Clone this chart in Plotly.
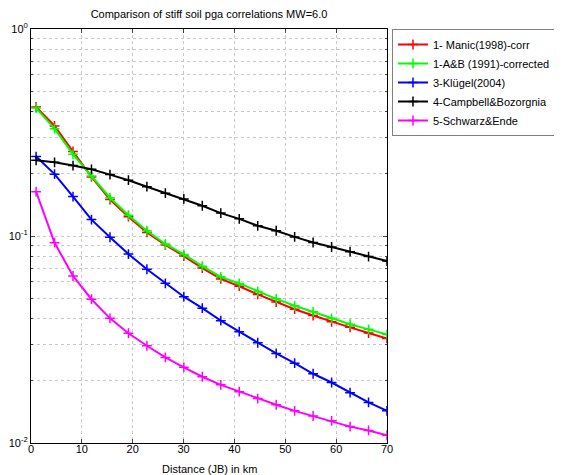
import plotly.graph_objects as go

distance_km = [1.0, 4.63, 8.26, 11.89, 15.53, 19.16, 22.79, 26.42, 30.05, 33.68,
               37.32, 40.95, 44.58, 48.21, 51.84, 55.47, 59.11, 62.74, 66.37, 70.0]

manic_corr = [0.420, 0.340, 0.256, 0.193, 0.150, 0.124, 0.104, 0.0905, 0.0800, 0.0700,
              0.0620, 0.0572, 0.0522, 0.0480, 0.0443, 0.0413, 0.0385, 0.0362, 0.0340, 0.0320]
ab_corrected = [0.415, 0.330, 0.248, 0.195, 0.153, 0.126, 0.106, 0.0915, 0.0815, 0.0715,
                0.0635, 0.0590, 0.0540, 0.0497, 0.0460, 0.0430, 0.0400, 0.0375, 0.0354, 0.0334]
klugel = [0.242, 0.199, 0.155, 0.120, 0.0986, 0.0818, 0.0691, 0.0591, 0.0509, 0.0448,
          0.0390, 0.0345, 0.0305, 0.0271, 0.0243, 0.0216, 0.0196, 0.0175, 0.0157, 0.0143]
campbell = [0.232, 0.227, 0.219, 0.210, 0.198, 0.186, 0.173, 0.161, 0.151, 0.140,
            0.129, 0.121, 0.112, 0.106, 0.099, 0.093, 0.0885, 0.084, 0.0795, 0.0757]
schwarz = [0.1637, 0.0928, 0.0641, 0.0495, 0.0400, 0.0339, 0.0295, 0.0259, 0.0232, 0.0209,
           0.0191, 0.0177, 0.0164, 0.0153, 0.0143, 0.0135, 0.0128, 0.0120, 0.0115, 0.0109]

series_names = ["1- Manic(1998)-corr", "1-A&B (1991)-corrected", "3-Klügel(2004)",
                "4-Campbell&Bozorgnia", "5-Schwarz&Ende"]
series_colors = ["#ff0000", "#00ff00", "#0000ff", "#000000", "#ff00ff"]
series_values = [manic_corr, ab_corrected, klugel, campbell, schwarz]

x_tick_vals = [0, 10, 20, 30, 40, 50, 60, 70]
x_tick_text = ["0", "10", "20", "30", "40", "50", "60", "70"]
y_tick_vals = [0.01, 0.1, 1]
y_tick_text = ["10<sup>-2</sup>", "10<sup>-1</sup>", "10<sup>0</sup>"]

FONT = "Liberation Sans, Arial, sans-serif"

# the page body has an 8px default margin; the plot area is placed to allow for it
W, H = 562, 475
L, T = 23, 21
PLOT_W, PLOT_H = 356, 414
R = W - L - PLOT_W
B = H - T - PLOT_H

fig = go.Figure()
for name, color, vals in zip(series_names, series_colors, series_values):
    fig.add_trace(go.Scatter(
        x=distance_km, y=vals, name=name, mode="lines+markers",
        line=dict(color=color, width=2),
        marker=dict(symbol="cross-thin", size=7, line=dict(color=color, width=1.5)),
    ))

grid_color = "#c8c8c8"
fig.update_layout(
    width=W, height=H,
    margin=dict(l=L, r=R, t=T, b=B),
    paper_bgcolor="white", plot_bgcolor="white",
    font=dict(family=FONT, size=11, color="black"),
    title=dict(text="Comparison of stiff soil pga correlations MW=6.0",
               x=(209 - 8) / W, xanchor="center", y=1 - 6 / H, yanchor="middle",
               font=dict(size=11)),
    showlegend=True,
    legend=dict(x=1.014, y=1.0, xanchor="left", yanchor="top",
                bordercolor="#808080", borderwidth=1, bgcolor="white",
                font=dict(size=11), tracegroupgap=0, itemwidth=30),
    annotations=[dict(text="Distance (JB) in km", xref="paper", yref="paper",
                      x=0.5, y=-26 / PLOT_H, xanchor="center", yanchor="middle",
                      showarrow=False, font=dict(size=11))],
)
fig.update_xaxes(
    range=[0, 70], tickmode="array", tickvals=x_tick_vals, ticktext=x_tick_text,
    showticklabels=True, ticks="inside", ticklen=4, ticklabelstandoff=-4,
    ticklabeloverflow="allow",
    showline=True, linecolor="black", linewidth=1, mirror="allticks",
    showgrid=True, gridcolor=grid_color, griddash="dot", gridwidth=1,
    zeroline=False, automargin=False,
)
fig.update_yaxes(
    type="log", range=[-2, 0], tickvals=y_tick_vals, ticktext=y_tick_text,
    ticks="inside", ticklen=4, ticklabeloverflow="allow",
    showline=True, linecolor="black", linewidth=1, mirror="allticks",
    showgrid=True, gridcolor=grid_color, griddash="dot", gridwidth=1,
    zeroline=False, automargin=False,
    minor=dict(dtick="D1", ticks="inside", ticklen=2, showgrid=True,
               gridcolor=grid_color, griddash="dot", gridwidth=1),
)

fig.write_html("out.html")
